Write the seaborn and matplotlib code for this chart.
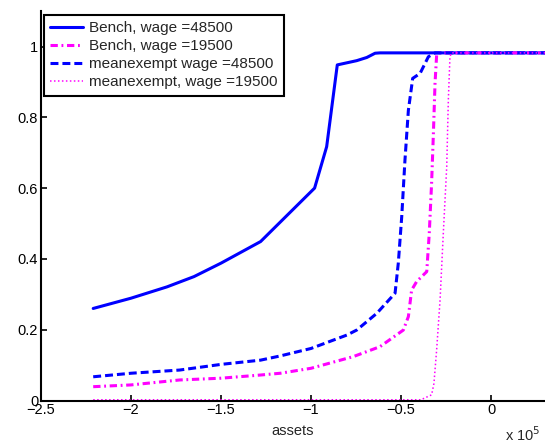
import numpy as np
import pandas as pd
import matplotlib
matplotlib.use("Agg")
import matplotlib.pyplot as plt
import seaborn as sns

# ---- data (assets in units of 1e5) ----
bench_hi_x = [-2.21, -2.0, -1.8, -1.65, -1.5, -1.28, -0.98, -0.913, -0.854, -0.746, -0.69, -0.644, -0.617, 0.3]
bench_hi_y = [0.260, 0.289, 0.321, 0.350, 0.388, 0.449, 0.600, 0.717, 0.948, 0.960, 0.969, 0.981, 0.982, 0.982]

bench_lo_x = [-2.21, -2.0, -1.73, -1.5, -1.28, -1.17, -1.0, -0.765, -0.617, -0.487, -0.459, -0.441, -0.413,
              -0.357, -0.343, -0.33, -0.32, -0.311, -0.302, -0.29, 0.3]
bench_lo_y = [0.039, 0.044, 0.058, 0.063, 0.072, 0.077, 0.091, 0.124, 0.152, 0.199, 0.237, 0.312, 0.336,
              0.364, 0.472, 0.614, 0.755, 0.896, 0.976, 0.982, 0.982]

mex_hi_x = [-2.21, -2.0, -1.73, -1.5, -1.28, -1.17, -1.0, -0.8, -0.746, -0.635, -0.533, -0.515, -0.496,
            -0.478, -0.459, -0.435, -0.394, -0.348, -0.311, 0.3]
mex_hi_y = [0.067, 0.077, 0.086, 0.102, 0.114, 0.126, 0.147, 0.185, 0.199, 0.246, 0.303, 0.388, 0.519,
            0.679, 0.820, 0.910, 0.924, 0.971, 0.982, 0.982]

mex_lo_x = [-2.21, -0.39, -0.33, -0.317, -0.302, -0.283, -0.265, -0.246, -0.237, -0.228, -0.22, 0.3]
mex_lo_y = [0.002, 0.002, 0.016, 0.048, 0.143, 0.284, 0.472, 0.660, 0.849, 0.971, 0.982, 0.982]

labels = ["Bench, wage =48500", "Bench, wage =19500",
          "meanexempt wage =48500", "meanexempt, wage =19500"]
x_ticks = [-2.5, -2, -1.5, -1, -0.5, 0]
x_tick_labels = ["\u22122.5", "\u22122", "\u22121.5", "\u22121", "\u22120.5", "0"]
y_ticks = [0, 0.2, 0.4, 0.6, 0.8, 1]
y_tick_labels = ["0", "0.2", "0.4", "0.6", "0.8", "1"]

sns.set_style("white")
plt.rcParams["font.family"] = ["Liberation Sans", "DejaVu Sans"]

fig = plt.figure(figsize=(5.45, 4.46), dpi=100)
ax = fig.add_axes([41 / 545, 1 - 400.5 / 446, 1 - 41 / 545, (1.1 * 354) / 446])

series = [
    (bench_hi_x, bench_hi_y, labels[0], "#0000ff", "-", 2.2),
    (bench_lo_x, bench_lo_y, labels[1], "#ff00ff", (0, (2.4, 1.2, 0.6, 1.2)), 2.2),
    (mex_hi_x, mex_hi_y, labels[2], "#0000ff", (0, (2.6, 1.3)), 2.2),
    (mex_lo_x, mex_lo_y, labels[3], "#ff00ff", (0, (1, 1.6)), 1.1),
]
for xs, ys, lab, col, ls, lw in series:
    df = pd.DataFrame({"assets": xs, "value": ys})
    sns.lineplot(data=df, x="assets", y="value", ax=ax, color=col, linestyle=ls,
                 linewidth=lw, label=lab, estimator=None, sort=False)

ax.set_xlim(-2.5, 0.3)
ax.set_ylim(0, 1.1)
ax.set_xticks(x_ticks)
ax.set_xticklabels(x_tick_labels)
ax.set_yticks(y_ticks)
ax.set_yticklabels(y_tick_labels)
ax.tick_params(direction="in", length=4, width=1.2, labelsize=10.5, colors="black", pad=2,
               top=False, right=False, bottom=True, left=True)
for s in ["top", "right"]:
    ax.spines[s].set_visible(False)
for s in ["left", "bottom"]:
    ax.spines[s].set_color("black")
    ax.spines[s].set_linewidth(1.5)
ax.set_xlabel("assets", fontsize=10.5, labelpad=5)
ax.set_ylabel("")
ax.grid(False)

leg = ax.legend(loc="upper left", bbox_to_anchor=(44 / 545, 1 - 15 / 446),
                bbox_transform=fig.transFigure, fontsize=11, frameon=True,
                fancybox=False, edgecolor="black", framealpha=1,
                handlelength=2.15, handletextpad=0.35, labelspacing=0.26,
                borderpad=0.42, borderaxespad=0)
leg.get_frame().set_linewidth(1.5)

fig.text(505 / 545, 1 - 444 / 446, "x 10$^5$", fontsize=10.5, ha="left", va="bottom")

fig.savefig("out.png", dpi=100)
